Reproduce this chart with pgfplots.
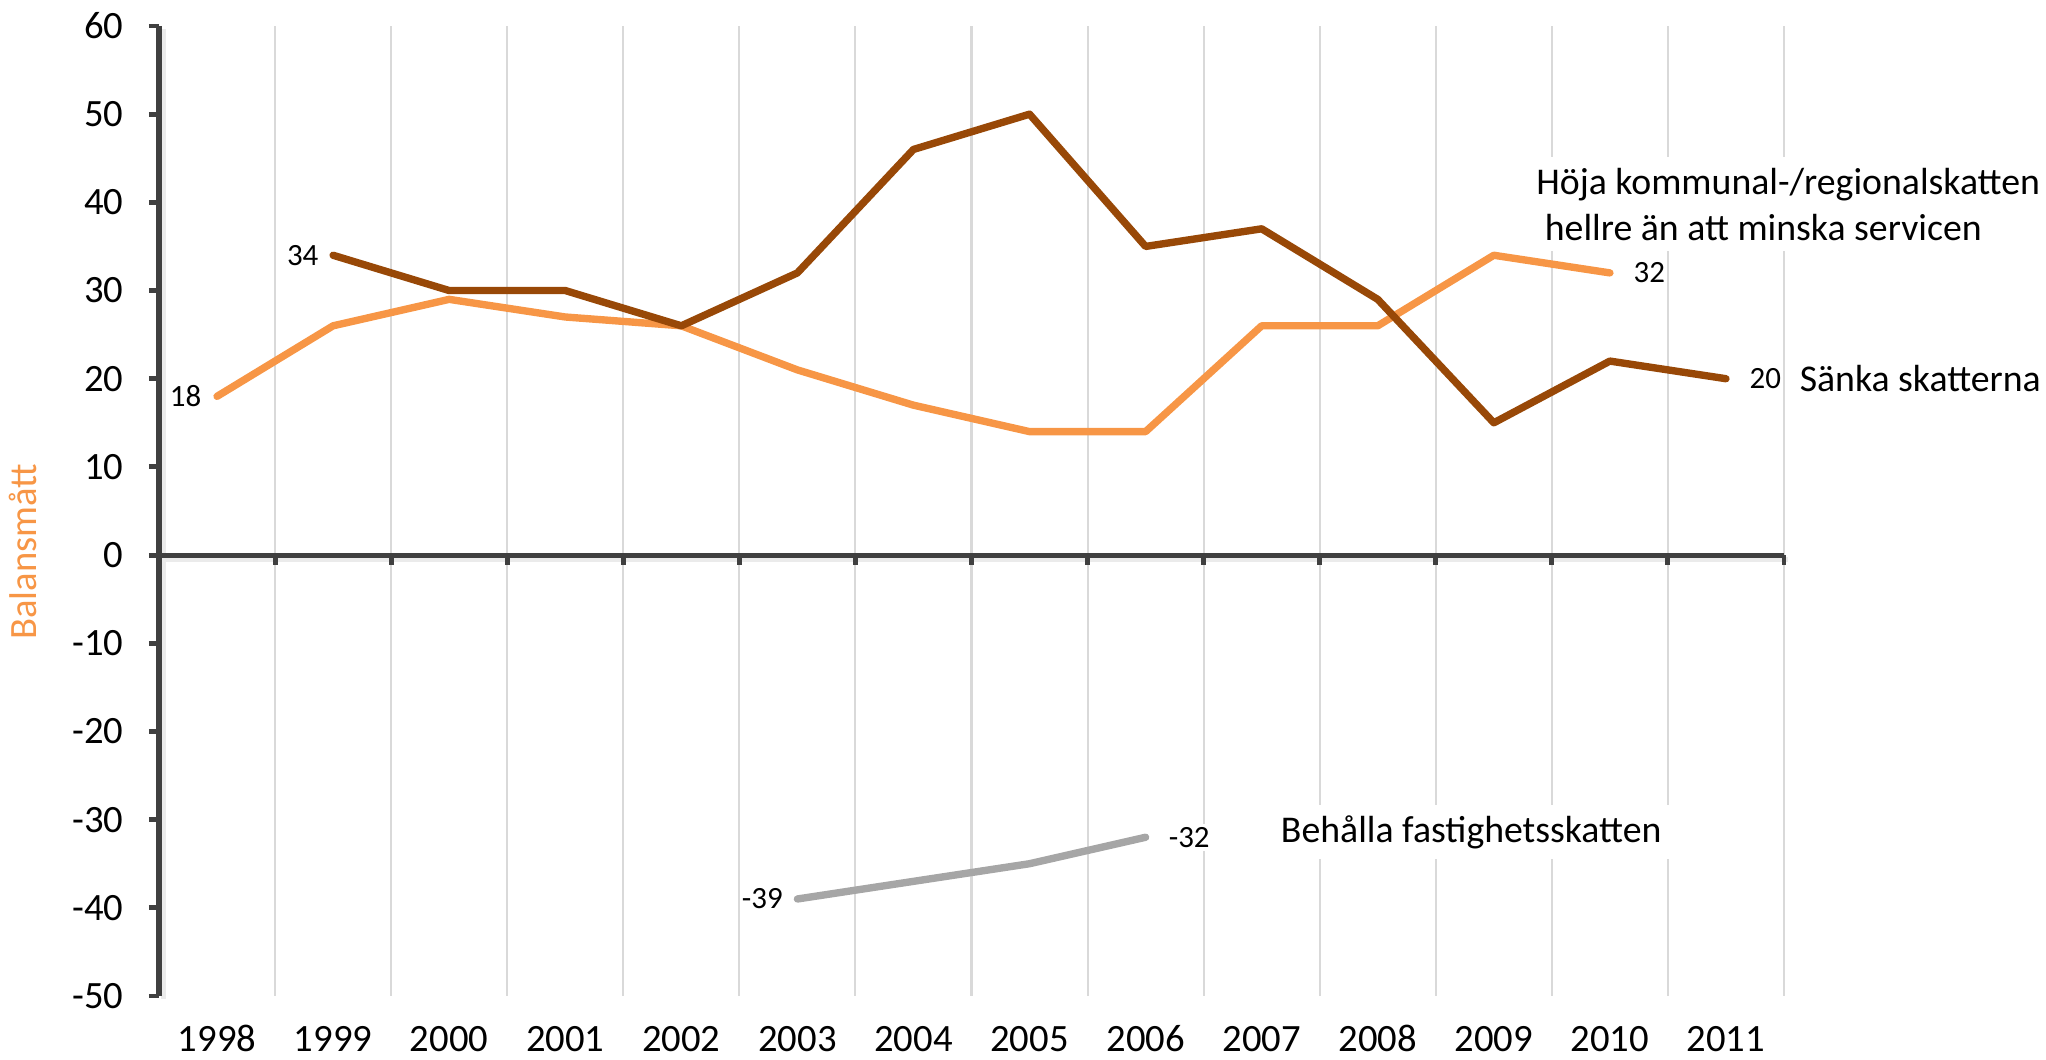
\documentclass[border=0pt]{standalone}
\usepackage{fontspec}
\setmainfont{Carlito}
\usepackage{pgfplots}
\pgfplotsset{compat=1.18}
\definecolor{brn}{HTML}{984807}
\definecolor{org}{HTML}{F79646}
\definecolor{gry}{HTML}{A6A6A6}
\definecolor{axc}{HTML}{404040}
\definecolor{grd}{HTML}{D9D9D9}
\newcommand\tkf{\fontsize{11}{13.2}\selectfont}
\newcommand\lab{\fontsize{8.8}{10.5}\selectfont}
\newcommand\ann{\fontsize{10.75}{13.1}\selectfont}
\begin{document}
\begin{tikzpicture}
\begin{axis}[
  scale only axis, width=162.5mm, height=97mm,
  xmin=-0.5, xmax=13.5, ymin=-50, ymax=60,
  axis y line*=left, axis x line*=bottom,
  x axis line style={draw=none},
  y axis line style={draw=none},
  ytick={-50,-40,...,60},
  ytick style={draw=axc, line width=1.4pt},
  tick align=outside,
  major tick length=1mm,
  xtick={0,...,13},
  xticklabels={1998,1999,2000,2001,2002,2003,2004,2005,2006,2007,2008,2009,2010,2011},
  xtick style={draw=none},
  extra x ticks={0.5,1.5,...,13.5},
  extra x tick labels={},
  extra x tick style={grid=major, major tick length=0pt},
  major grid style={draw=grd, line width=0.6pt},
  tick label style={font=\tkf, text=black},
  /pgf/number format/assume math mode=true,
  xticklabel style={yshift=-0.9mm, text height=2.4mm, text depth=0pt},
  yticklabel style={xshift=-1.3mm},
  ylabel={Balansmått},
  ylabel style={at={(axis description cs:-0.0837,0.458)}, anchor=center, font=\tkf, text=org},
  clip=false,
]
% shadow of axis lines
\draw[black!8, line width=1.4pt] ([xshift=0.35mm,yshift=-0.45mm]axis cs:-0.5,0) -- ([xshift=0.35mm,yshift=-0.45mm]axis cs:13.5,0);
\draw[black!8, line width=1.4pt] ([xshift=0.45mm,yshift=-0.35mm]axis cs:-0.5,60) -- ([xshift=0.45mm,yshift=-0.35mm]axis cs:-0.5,-50);
% axis lines with ticks
\draw[axc, line width=1.5pt] (axis cs:-0.5,60) -- (axis cs:-0.5,-50);
\draw[axc, line width=1.4pt] (axis cs:-0.5,0) -- (axis cs:13.5,0);
\pgfplotsinvokeforeach{0.5,1.5,...,13.5}{
  \draw[axc, line width=1.4pt] (axis cs:#1,0) -- ([yshift=-1mm]axis cs:#1,0);
}

\addplot[org, line width=2.1pt, line cap=round, line join=round] coordinates {
 (0,18) (1,26) (2,29) (3,27) (4,26) (5,21) (6,17) (7,14) (8,14) (9,26) (10,26) (11,34) (12,32)
};
\addplot[brn, line width=2.1pt, line cap=round, line join=round] coordinates {
 (1,34) (2,30) (3,30) (4,26) (5,32) (6,46) (7,50) (8,35) (9,37) (10,29) (11,15) (12,22) (13,20)
};
\addplot[gry, line width=2.1pt, line cap=round, line join=round] coordinates {
 (5,-39) (6,-37) (7,-35) (8,-32)
};

% data labels
\node[font=\lab, anchor=east, inner sep=0pt, xshift=-1.5mm] at (axis cs:0,18) {18};
\node[font=\lab, anchor=east, inner sep=0pt, xshift=-1.4mm] at (axis cs:1,34) {34};
\node[font=\lab, anchor=west, inner sep=0pt, xshift=2.3mm] at (axis cs:12,32) {32};
\node[font=\lab, anchor=west, inner sep=0pt, xshift=2.3mm] at (axis cs:13,20) {20};
\node[font=\lab, anchor=east, inner sep=0pt, xshift=-1.4mm] at (axis cs:5,-39) {-39};
\node[font=\lab, anchor=west, inner sep=1pt, fill=white, xshift=1.9mm] at (axis cs:8,-32) {-32};

% annotations
\node[font=\ann, anchor=west, align=left, fill=white, inner sep=3pt, xshift=-3pt] at (axis cs:11.36,39.8)
  {Höja kommunal-/regionalskatten\\\ hellre än att minska servicen};
\node[font=\ann, anchor=west, inner sep=0pt] at (axis cs:13.63,20) {Sänka skatterna};
\node[font=\ann, anchor=west, fill=white, inner sep=3pt, xshift=-3pt] at (axis cs:9.16,-31.4) {Behålla fastighetsskatten};

\coordinate (sw) at (axis cs:-0.5,-50);
\end{axis}
\pgfresetboundingbox
\path (sw) ++(-15.9mm,-6.4mm) rectangle ++(204.6mm,106mm);
\end{tikzpicture}
\end{document}
